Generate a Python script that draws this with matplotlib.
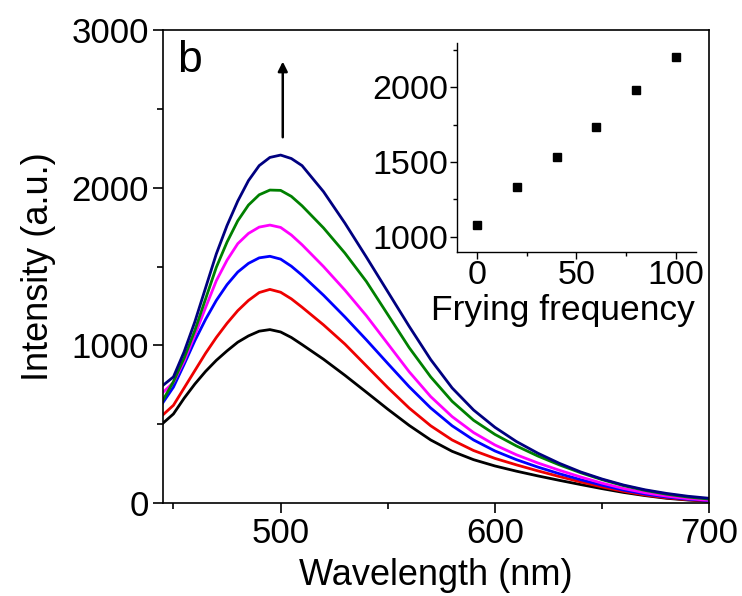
import numpy as np
import matplotlib
matplotlib.use("Agg")
import matplotlib.pyplot as plt
from matplotlib.ticker import MultipleLocator

# emission spectra (5 nm steps round the peak, 10 nm in the tail)
wl = list(range(445, 511, 5)) + list(range(520, 701, 10))

I_0 = [505, 565, 665, 755, 835, 905, 965, 1020, 1060, 1090, 1100, 1085, 1050, 1005,
       912, 810, 703, 595, 492, 400, 328, 275, 235, 202, 172, 144, 117, 91, 67, 47, 30, 19, 11]
I_20 = [558, 620, 730, 840, 950, 1050, 1140, 1220, 1285, 1335, 1355, 1337, 1295, 1242,
        1130, 1008, 870, 732, 602, 490, 400, 333, 283, 242, 204, 168, 134, 102, 74, 51, 33, 21, 13]
I_40 = [635, 735, 880, 1030, 1165, 1285, 1385, 1465, 1520, 1555, 1565, 1547, 1502, 1445,
        1318, 1180, 1035, 885, 737, 603, 490, 400, 330, 275, 228, 186, 148, 113, 82, 57, 38, 24, 15]
I_60 = [700, 765, 900, 1065, 1240, 1410, 1540, 1645, 1710, 1750, 1763, 1748, 1700, 1638,
        1500, 1350, 1188, 1010, 832, 675, 548, 447, 368, 306, 254, 208, 165, 126, 92, 65, 44, 28, 17]
I_80 = [650, 770, 920, 1095, 1295, 1495, 1655, 1790, 1890, 1955, 1985, 1983, 1945, 1885,
        1745, 1585, 1405, 1195, 985, 800, 645, 525, 435, 362, 298, 242, 192, 148, 110, 80, 56, 38, 25]
I_100 = [745, 800, 960, 1150, 1365, 1580, 1760, 1915, 2045, 2140, 2192, 2207, 2185, 2140,
         1975, 1775, 1560, 1340, 1120, 910, 730, 590, 480, 390, 316, 252, 197, 152, 114, 84, 61, 43, 30]

spectra = [I_0, I_20, I_40, I_60, I_80, I_100]
colors = ["black", "#ee0000", "#0000ff", "#ff00ff", "#008000", "#000080"]

# inset: peak intensity vs frying frequency
freq = [0, 20, 40, 60, 80, 100]
peak = [1078, 1331, 1533, 1734, 1980, 2201]

plt.rcParams["font.family"] = ["Liberation Sans", "DejaVu Sans"]

fig = plt.figure(figsize=(7.42, 5.96), dpi=100)
ax = fig.add_axes([0.2193, 0.156, 0.7367, 0.7936])

for y, c in zip(spectra, colors):
    ax.plot(wl, y, color=c, lw=2.0)

ax.set_xlim(445, 700)
ax.set_ylim(0, 3000)
ax.xaxis.set_major_locator(MultipleLocator(100))
ax.xaxis.set_minor_locator(MultipleLocator(50))
ax.yaxis.set_major_locator(MultipleLocator(1000))
ax.yaxis.set_minor_locator(MultipleLocator(500))
ax.tick_params(which="major", direction="out", length=7, width=1.2, labelsize=25, pad=3)
ax.tick_params(which="minor", direction="out", length=4, width=1.2)
for s in ax.spines.values():
    s.set_linewidth(1.2)
ax.set_xlabel("Wavelength (nm)", fontsize=26, labelpad=6)
ax.set_ylabel("Intensity (a.u.)", fontsize=26, labelpad=11)

ax.text(0.027, 0.912, "b", transform=ax.transAxes, fontsize=32)
ax.annotate("", xy=(501, 2800), xytext=(501, 2320),
            arrowprops=dict(arrowstyle="-|>", color="black", lw=1.8,
                            mutation_scale=14, shrinkA=0, shrinkB=0))

ins = fig.add_axes([0.6159, 0.5772, 0.322, 0.3507])
ins.plot(freq, peak, "s", color="black", ms=5.5)
ins.set_xlim(-10, 110)
ins.set_ylim(898, 2297)
ins.xaxis.set_major_locator(MultipleLocator(50))
ins.xaxis.set_minor_locator(MultipleLocator(25))
ins.yaxis.set_major_locator(MultipleLocator(500))
ins.yaxis.set_minor_locator(MultipleLocator(250))
ins.spines["top"].set_visible(False)
ins.spines["right"].set_visible(False)
for s in ["left", "bottom"]:
    ins.spines[s].set_linewidth(1.0)
ins.tick_params(which="major", direction="out", length=5, width=1.0, labelsize=24.5, pad=1)
ins.tick_params(which="minor", direction="out", length=3, width=1.0)
ins.set_xlabel("Frying frequency", fontsize=25.5, labelpad=1)
ins.xaxis.set_label_coords(0.445, -0.2)

fig.savefig("out.png", dpi=100)
